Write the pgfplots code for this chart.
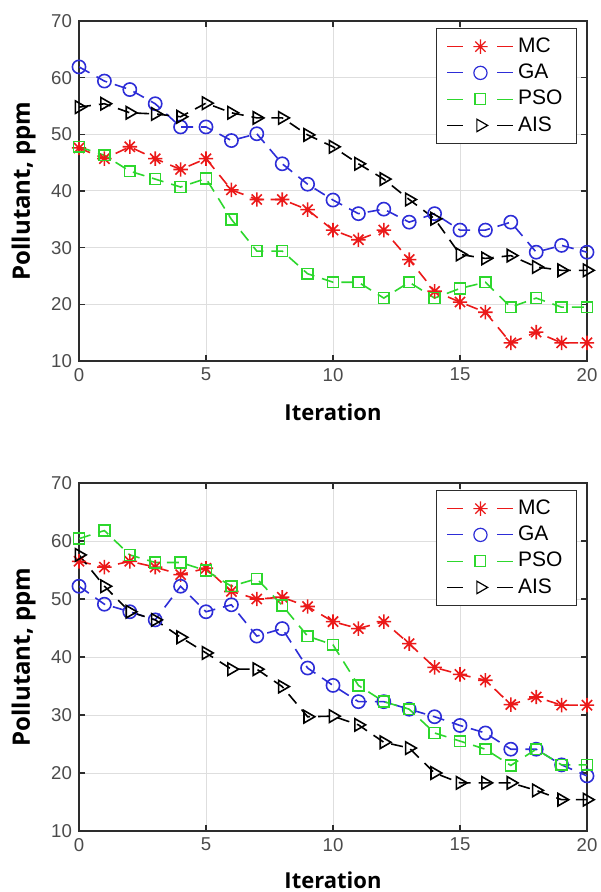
\documentclass[border=0pt]{standalone}
\usepackage{pgfplots}
\pgfplotsset{compat=1.18}
\usepackage{pgfplotstable}
\usepackage{fontspec}
\setmainfont{Liberation Sans}
\newfontfamily\labelfont{Open Sans}
\definecolor{mcred}{RGB}{235,25,25}
\definecolor{gablue}{RGB}{45,45,215}
\definecolor{psogreen}{RGB}{45,215,45}
\definecolor{tickgray}{RGB}{75,75,75}
\definecolor{axgray}{RGB}{45,45,45}
\definecolor{gridgray}{RGB}{222,222,222}

% MATLAB-like '*' marker: plus and cross together
\pgfdeclareplotmark{star8}{%
  \pgfpathmoveto{\pgfqpoint{0pt}{\pgfplotmarksize}}%
  \pgfpathlineto{\pgfqpoint{0pt}{-\pgfplotmarksize}}%
  \pgfpathmoveto{\pgfqpoint{\pgfplotmarksize}{0pt}}%
  \pgfpathlineto{\pgfqpoint{-\pgfplotmarksize}{0pt}}%
  \pgfpathmoveto{\pgfqpoint{0.707\pgfplotmarksize}{0.707\pgfplotmarksize}}%
  \pgfpathlineto{\pgfqpoint{-0.707\pgfplotmarksize}{-0.707\pgfplotmarksize}}%
  \pgfpathmoveto{\pgfqpoint{0.707\pgfplotmarksize}{-0.707\pgfplotmarksize}}%
  \pgfpathlineto{\pgfqpoint{-0.707\pgfplotmarksize}{0.707\pgfplotmarksize}}%
  \pgfusepathqstroke}

% iteration, MC, GA, PSO, AIS
\pgfplotstableread{
x mc ga pso ais
0 47.6 61.9 47.8 54.8
1 45.7 59.4 46.3 55.4
2 47.8 57.9 43.5 53.8
3 45.7 55.4 42.1 53.6
4 43.8 51.3 40.7 53.1
5 45.7 51.3 42.2 55.5
6 40.2 48.9 35.0 53.8
7 38.5 50.1 29.4 52.9
8 38.5 44.8 29.4 52.9
9 36.7 41.2 25.4 49.9
10 33.1 38.4 23.9 47.8
11 31.4 36.0 23.9 44.8
12 33.1 36.8 21.1 42.1
13 27.9 34.5 23.9 38.5
14 22.3 36.0 21.1 35.1
15 20.4 33.1 22.8 28.8
16 18.6 33.1 23.9 28.1
17 13.2 34.5 19.5 28.6
18 15.1 29.2 21.1 26.6
19 13.2 30.4 19.5 26.0
20 13.2 29.2 19.5 26.0
}\toptable

\pgfplotstableread{
x mc ga pso ais
0 56.5 52.2 60.4 57.6
1 55.5 49.1 61.8 52.2
2 56.5 47.8 57.6 47.8
3 55.5 46.4 56.3 46.4
4 54.2 52.2 56.3 43.4
5 55.3 47.8 54.9 40.7
6 51.3 49.0 52.2 37.9
7 50.0 43.6 53.5 37.9
8 50.3 44.9 48.9 34.9
9 48.7 38.1 43.6 29.7
10 46.1 35.1 42.1 29.8
11 44.9 32.3 35.1 28.3
12 46.1 32.3 32.3 25.3
13 42.3 31.0 31.0 24.3
14 38.2 29.7 26.9 20.0
15 37.0 28.2 25.5 18.3
16 36.0 26.9 24.1 18.3
17 31.8 24.1 21.3 18.3
18 33.1 24.1 24.1 17.0
19 31.7 21.4 21.4 15.4
20 31.7 19.5 21.4 15.4
}\bottable

\pgfplotsset{
  panel/.style={
    scale only axis, width=254pt,
    xmin=0, xmax=20, ymin=10, ymax=70,
    xtick={0,5,...,20}, ytick={10,20,...,70},
    grid=major, major grid style={gridgray, line width=0.5pt},
    axis line style={axgray, line width=0.7pt},
    tick style={axgray, line width=0.6pt},
    major tick length=3pt, tick align=inside,
    tick label style={font=\fontsize{9.3}{10}\selectfont, color=tickgray},
    /pgf/number format/assume math mode=true,
    xlabel={Iteration}, ylabel={Pollutant, ppm},
    xlabel style={font=\labelfont\bfseries\fontsize{11}{12}\selectfont, anchor=center},
    ylabel style={font=\labelfont\bfseries\fontsize{12}{13}\selectfont, at={(axis description cs:-0.109,0.5)}, anchor=center, rotate=0},
    legend cell align=left,
    legend style={at={(1,1)}, anchor=north east, xshift=-5pt, yshift=-3.5pt,
      draw=axgray, line width=0.6pt, font=\fontsize{10.5}{11}\selectfont,
      inner xsep=5pt, inner ysep=2.6pt, row sep=0.3pt},
    legend image code/.code={
      \draw[solid, line width=0.6pt] (0pt,0pt) -- (8pt,0pt);
      \draw[solid, line width=0.6pt] (25pt,0pt) -- (33pt,0pt);
      \draw[only marks, line width=0.6pt] plot coordinates {(16.5pt,0pt)};
    },
    every axis plot/.append style={line width=0.8pt, dash pattern=on 6pt off 4pt},
  },
  mcs/.style={mcred, mark=star8, mark size=3.6pt, mark options={solid}},
  gas/.style={gablue, mark=o, mark size=3.3pt, mark options={solid}},
  psos/.style={psogreen, mark=square, mark size=2.7pt, mark options={solid}},
  aiss/.style={black, mark=triangle, mark size=3.6pt, mark options={solid, rotate=-90}},
}

\begin{document}
\begin{tikzpicture}
\path[use as bounding box] (0,0) rectangle (300pt,-446pt);
\begin{axis}[panel, height=170pt, at={(39.5pt,-10.5pt)}, anchor=north west,
  xlabel style={at={(axis description cs:0.5,-0.15)}}]
\addplot[mcs] table[x=x, y=mc] {\toptable};
\addplot[gas] table[x=x, y=ga] {\toptable};
\addplot[psos] table[x=x, y=pso] {\toptable};
\addplot[aiss] table[x=x, y=ais] {\toptable};
\legend{MC, GA, PSO, AIS}
\end{axis}
\begin{axis}[panel, height=174pt, at={(39.5pt,-241.5pt)}, anchor=north west,
  xlabel style={at={(axis description cs:0.5,-0.141)}}]
\addplot[mcs] table[x=x, y=mc] {\bottable};
\addplot[gas] table[x=x, y=ga] {\bottable};
\addplot[psos] table[x=x, y=pso] {\bottable};
\addplot[aiss] table[x=x, y=ais] {\bottable};
\legend{MC, GA, PSO, AIS}
\end{axis}
\end{tikzpicture}
\end{document}
